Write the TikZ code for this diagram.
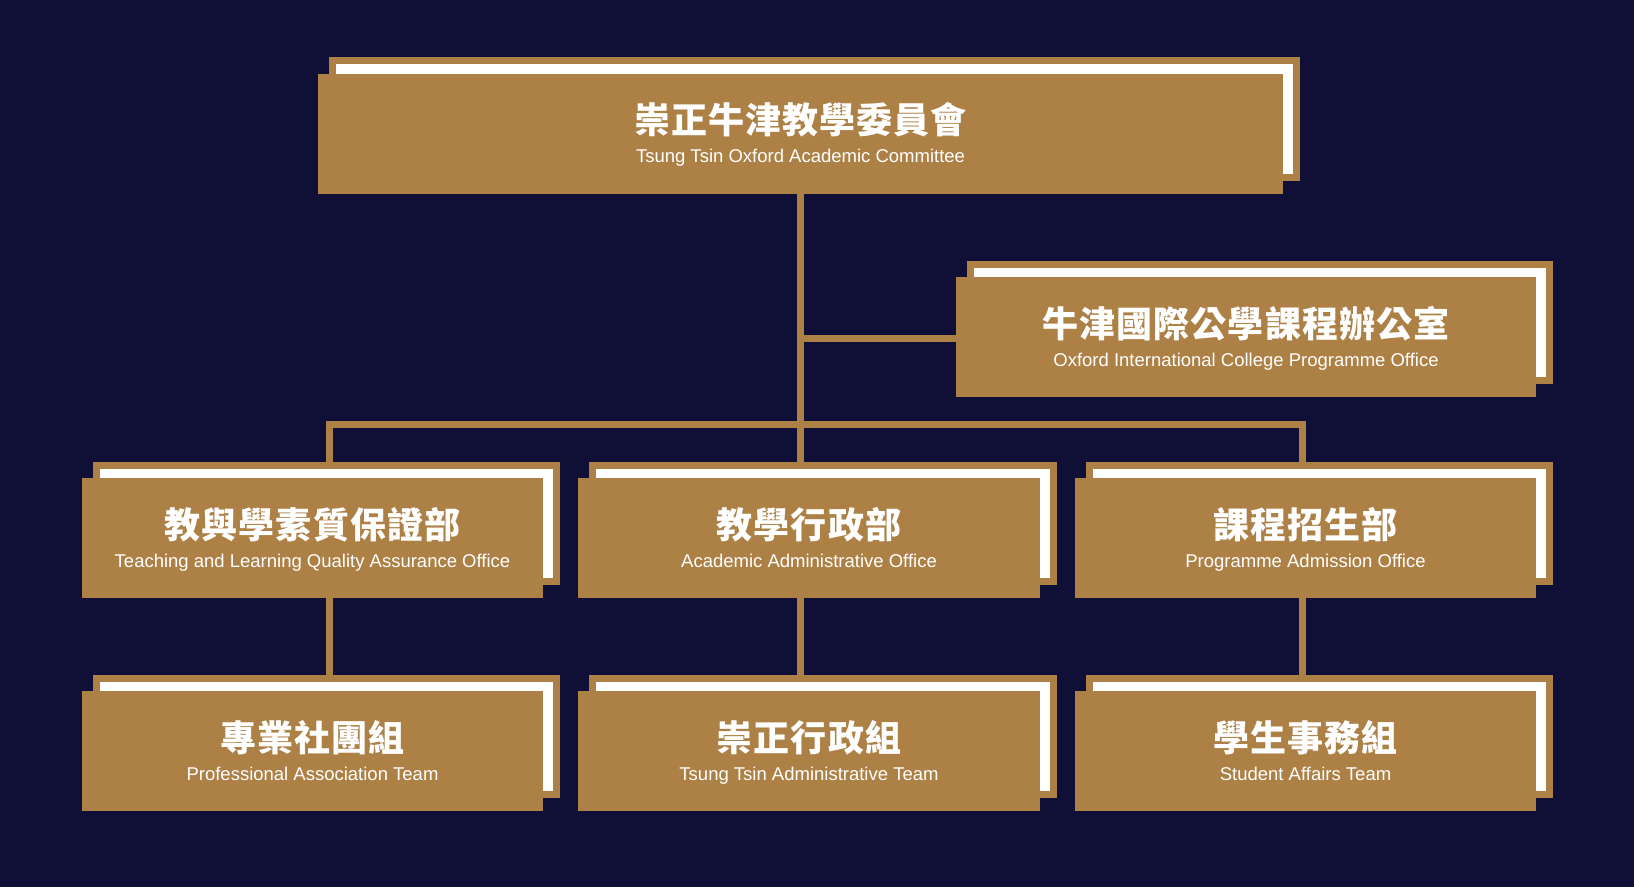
\documentclass[tikz,border=0pt]{standalone}
\usepackage{fontspec}
\usepackage{xcolor}
\usepackage{tikz}
\newfontfamily\cjk{Noto Sans CJK TC}[LetterSpace=3]
\newfontfamily\ensans{Liberation Sans}
\definecolor{navy}{HTML}{100F38}
\definecolor{gold}{HTML}{AD8046}
\pgfdeclarelayer{bg}
\pgfdeclarelayer{lines}
\pgfdeclarelayer{frames}
\pgfsetlayers{bg,lines,frames,main}
\tikzset{
  unitbox/.style={rectangle, fill=gold, inner sep=0pt, minimum height=120pt},
  cntext/.style={anchor=base, inner sep=0pt, text=white, font=\cjk\bfseries\fontsize{36}{40}\selectfont},
  entext/.style={anchor=base, inner sep=0pt, text=white, font=\ensans\fontsize{18.5}{22}\selectfont},
  link/.style={draw=gold, line width=7pt, line join=miter}
}
% #1 name, #2 centre, #3 width, #4 chinese, #5 english
\newcommand{\orgbox}[5]{%
  \node[unitbox, minimum width=#3] (#1) at (#2) {};
  \begin{pgfonlayer}{frames}
    \fill[gold] ([shift={(11,-16)}]#1.north west) rectangle ([shift={(17,-13)}]#1.south east);
    \fill[white] ([shift={(18,-9)}]#1.north west) rectangle ([shift={(10,-20)}]#1.south east);
  \end{pgfonlayer}
  \node[cntext] (#1-cn) at (#1.center) {#4};
  \node[entext] (#1-en) at ([yshift=-29pt]#1.center) {#5};
}
\begin{document}
\begin{tikzpicture}[x=1pt, y=-1pt]
\begin{pgfonlayer}{bg}
  \fill[navy] (0,0) rectangle (1634,887);
\end{pgfonlayer}
\useasboundingbox (0,0) rectangle (1634,887);
% committee
\orgbox{ttoac}{800.5,133.5}{965pt}{崇正牛津教學委員會}{Tsung Tsin Oxford Academic Committee}
\orgbox{oicpo}{1246,337}{580pt}{牛津國際公學課程辦公室}{Oxford International College Programme Office}
% offices
\orgbox{tlq}{312.5,538}{461pt}{教與學素質保證部}{Teaching and Learning Quality Assurance Office}
\orgbox{aao}{809,538}{462pt}{教學行政部}{Academic Administrative Office}
\orgbox{pao}{1305.5,538}{461pt}{課程招生部}{Programme Admission Office}
% teams
\orgbox{pat}{312.5,751}{461pt}{專業社團組}{Professional Association Team}
\orgbox{tat}{809,751}{462pt}{崇正行政組}{Tsung Tsin Administrative Team}
\orgbox{sat}{1305.5,751}{461pt}{學生事務組}{Student Affairs Team}
% connectors
\coordinate (jL) at (329.5,424.5);
\coordinate (jR) at (1302.5,424.5);
\begin{pgfonlayer}{lines}
  \draw[link] (ttoac.south) -- (ttoac.south |- aao.north);
  \draw[link] (ttoac.south |- 0,338.5) -- (oicpo.west |- 0,338.5);
  \draw[link] (jL |- tlq.north) -- (jL) -- (jR) -- (jR |- pao.north);
  \draw[link] (jL |- tlq.south) -- (jL |- pat.north);
  \draw[link] (ttoac.south |- aao.south) -- (ttoac.south |- tat.north);
  \draw[link] (jR |- pao.south) -- (jR |- sat.north);
\end{pgfonlayer}
\end{tikzpicture}
\end{document}
